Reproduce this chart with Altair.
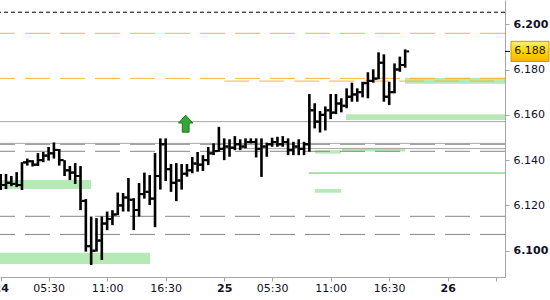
import altair as alt
import pandas as pd

# ---- OHLC bars (30-min slots; slot 0 = 00:00 on the 24th) ----
highs = [6.1339, 6.1339, 6.1330, 6.1347, 6.1391, 6.1407, 6.1400, 6.1431, 6.1436, 6.1458,
         6.1478, 6.1449, 6.1400, 6.1374, 6.1387, 6.1374, 6.1228, 6.1151, 6.1144, 6.1151,
         6.1173, 6.1179, 6.1257, 6.1255, 6.1321, 6.1232, 6.1299, 6.1345, 6.1334, 6.1431,
         6.1496, 6.1496, 6.1383, 6.1387, 6.1383, 6.1383, 6.1414, 6.1436, 6.1422, 6.1458,
         6.1474, 6.1547, 6.1496, 6.1492, 6.1506, 6.1492, 6.1496, 6.1496, 6.1496, 6.1496,
         6.1477, 6.1499, 6.1503, 6.1506, 6.1496, 6.1481, 6.1492, 6.1481, 6.1692, 6.1651,
         6.1617, 6.1637, 6.1692, 6.1692, 6.1673, 6.1717, 6.1742, 6.1717, 6.1746, 6.1788,
         6.1801, 6.1876, 6.1867, 6.1746, 6.1827, 6.1857, 6.1889]
lows = [6.1268, 6.1272, 6.1285, 6.1281, 6.1268, 6.1376, 6.1372, 6.1374, 6.1391, 6.1398,
        6.1407, 6.1376, 6.1330, 6.1312, 6.1295, 6.1179, 6.0996, 6.0937, 6.0996, 6.0959,
        6.1091, 6.1113, 6.1157, 6.1173, 6.1173, 6.1091, 6.1151, 6.1230, 6.1202, 6.1104,
        6.1270, 6.1308, 6.1260, 6.1219, 6.1270, 6.1327, 6.1342, 6.1349, 6.1352, 6.1378,
        6.1422, 6.1437, 6.1400, 6.1415, 6.1444, 6.1444, 6.1452, 6.1474, 6.1412, 6.1326,
        6.1415, 6.1459, 6.1459, 6.1459, 6.1422, 6.1422, 6.1422, 6.1422, 6.1437, 6.1540,
        6.1522, 6.1531, 6.1581, 6.1603, 6.1611, 6.1629, 6.1658, 6.1658, 6.1677, 6.1673,
        6.1742, 6.1757, 6.1658, 6.1643, 6.1695, 6.1790, 6.1808]
opens = [6.1300, 6.1290, 6.1300, 6.1295, 6.1290, 6.1390, 6.1395, 6.1380, 6.1400, 6.1420,
         6.1430, 6.1445, 6.1400, 6.1355, 6.1345, 6.1330, 6.1220, 6.1020, 6.1000, 6.1045,
         6.1120, 6.1140, 6.1160, 6.1200, 6.1235, 6.1225, 6.1180, 6.1250, 6.1260, 6.1230,
         6.1330, 6.1470, 6.1360, 6.1300, 6.1310, 6.1340, 6.1355, 6.1385, 6.1380, 6.1400,
         6.1430, 6.1440, 6.1450, 6.1460, 6.1455, 6.1470, 6.1460, 6.1480, 6.1480, 6.1450,
         6.1460, 6.1470, 6.1480, 6.1470, 6.1480, 6.1445, 6.1460, 6.1450, 6.1470, 6.1620,
         6.1570, 6.1600, 6.1620, 6.1610, 6.1650, 6.1640, 6.1680, 6.1690, 6.1700, 6.1740,
         6.1750, 6.1760, 6.1830, 6.1680, 6.1700, 6.1800, 6.1820]
closes = [6.1290, 6.1300, 6.1295, 6.1290, 6.1390, 6.1395, 6.1380, 6.1400, 6.1420, 6.1430,
          6.1445, 6.1400, 6.1355, 6.1345, 6.1330, 6.1220, 6.1020, 6.1000, 6.1045, 6.1120,
          6.1140, 6.1160, 6.1200, 6.1235, 6.1225, 6.1180, 6.1250, 6.1260, 6.1230, 6.1330,
          6.1470, 6.1360, 6.1300, 6.1310, 6.1340, 6.1355, 6.1385, 6.1380, 6.1400, 6.1430,
          6.1440, 6.1450, 6.1460, 6.1455, 6.1470, 6.1460, 6.1480, 6.1480, 6.1450, 6.1460,
          6.1470, 6.1480, 6.1470, 6.1480, 6.1445, 6.1460, 6.1450, 6.1470, 6.1620, 6.1570,
          6.1600, 6.1620, 6.1610, 6.1650, 6.1640, 6.1680, 6.1690, 6.1700, 6.1740, 6.1750,
          6.1760, 6.1830, 6.1680, 6.1700, 6.1800, 6.1820, 6.1880]

# ---- x axis ticks ----
tick_slots = [0, 9, 20, 31, 42, 51, 62, 73, 84, 93]
tick_labels = ["24", "05:30", "11:00", "16:30", "25", "05:30", "11:00", "16:30", "26", ""]
day_slots = [0, 42, 84]

# ---- y axis ----
y_ticks = [6.10, 6.12, 6.14, 6.16, 6.18, 6.20]
bold_y_ticks = [6.10, 6.20]
last_price = [6.188]

# ---- horizontal levels ----
black_dashed_levels = [6.2053]
orange_levels = [6.1960, 6.1761]
orange_part_level = [6.1749]
orange_part_from = [42]
gray_solid_levels = [6.1570, 6.1474]
gray_part_level = [6.1451]
gray_part_from = [42]
gray_dashed_levels = [6.1470, 6.1439, 6.1152, 6.1072]
green_line_level = [6.1343]
green_line_from = [57.9]

# ---- green zones ----
zone_from = [-0.13, -0.13, 75.97, 64.9, 64.13, 59.06, 59.06]
zone_to = [16.97, 28.06, 94.76, 94.76, 75.97, 63.94, 63.94]
zone_top = [6.1312, 6.0991, 6.1764, 6.1603, 6.1455, 6.1444, 6.1272]
zone_bottom = [6.1272, 6.0941, 6.1737, 6.1577, 6.1438, 6.1429, 6.1256]

# ---- signal arrow ----
arrow_slot = [34.76]
arrow_price = [6.1561]

X_DOMAIN = [-0.13, 94.76]
Y_DOMAIN = [6.0884, 6.2107]
FONT = "DejaVu Sans"

xs = alt.Scale(domain=X_DOMAIN, nice=False, zero=False)
ys = alt.Scale(domain=Y_DOMAIN, nice=False, zero=False)

bars = pd.DataFrame({"slot": list(range(len(highs))), "high": highs, "low": lows,
                     "open": opens, "close": closes})
zones = pd.DataFrame({"x": zone_from, "x2": zone_to, "top": zone_top, "bottom": zone_bottom})

label_expr = "[" + ",".join("'%s'" % l for l in tick_labels) + "][indexof([" + \
    ",".join(str(v) for v in tick_slots) + "], datum.value)]"
x_bold_test = " || ".join("datum.value === %d" % d for d in day_slots)
y_bold_test = " || ".join("abs(datum.value - %s) < 0.0005" % v for v in bold_y_ticks)

x_axis = alt.Axis(values=tick_slots, labelExpr=label_expr, title=None, orient="bottom",
                  grid=False, tickSize=4, labelPadding=1, labelFlush=False, labelOverlap=False,
                  domainColor="#a6a6a6", tickColor="#a6a6a6", labelFont=FONT,
                  labelFontSize=11, labelColor="#10102a",
                  labelFontWeight={"condition": {"test": x_bold_test, "value": "bold"},
                                   "value": "normal"})
y_axis = alt.Axis(values=y_ticks, format=".3f", title=None, orient="right", grid=False,
                  tickSize=4, labelPadding=4, labelFlush=False, labelOverlap=False,
                  domainColor="#a6a6a6", tickColor="#a6a6a6", labelFont=FONT,
                  labelFontSize=11, labelColor="#10102a",
                  labelFontWeight={"condition": {"test": y_bold_test, "value": "bold"},
                                   "value": "normal"})


def X(field):
    return alt.X(field, scale=xs, axis=x_axis)


def Y(field):
    return alt.Y(field, scale=ys, axis=y_axis)


zone_layer = alt.Chart(zones).mark_rect(color="#b5e9b5", opacity=1).encode(
    x=X("x:Q"), x2="x2:Q", y=Y("top:Q"), y2="bottom:Q")


def full_rules(levels, color, dash=None, width=1):
    kw = dict(color=color, strokeWidth=width)
    if dash:
        kw["strokeDash"] = dash
    return alt.Chart(pd.DataFrame({"p": levels})).mark_rule(**kw).encode(y=Y("p:Q"))


def part_rules(levels, starts, color, dash=None, width=1):
    kw = dict(color=color, strokeWidth=width)
    if dash:
        kw["strokeDash"] = dash
    df = pd.DataFrame({"p": levels, "a": starts, "b": [X_DOMAIN[1]] * len(levels)})
    return alt.Chart(df).mark_rule(**kw).encode(x=X("a:Q"), x2="b:Q", y=Y("p:Q"))


gray_solid = full_rules(gray_solid_levels, "#a8a8a8")
gray_part = part_rules(gray_part_level, gray_part_from, "#a8a8a8")
gray_dashed = full_rules(gray_dashed_levels, "#858585", dash=[25, 10])
black_dashed = full_rules(black_dashed_levels, "#000000", dash=[4, 3])
orange_full = full_rules(orange_levels, "#f5b63c", dash=[25, 10])
orange_part = part_rules(orange_part_level, orange_part_from, "#f5b63c", dash=[25, 10])
green_line = part_rules(green_line_level, green_line_from, "#5cc45c")

base = alt.Chart(bars)
hl = base.mark_rule(color="black", strokeWidth=2.6).encode(
    x=X("slot:Q"), y=Y("low:Q"), y2="high:Q")
op = base.mark_tick(orient="horizontal", size=3, thickness=2, xOffset=-2.5,
                    color="black", opacity=1).encode(x=X("slot:Q"), y=Y("open:Q"))
cl = base.mark_tick(orient="horizontal", size=3, thickness=2, xOffset=2.5,
                    color="black", opacity=1).encode(x=X("slot:Q"), y=Y("close:Q"))

arrow_path = "M-0.4,1L0.4,1L0.4,-0.08L0.84,-0.08L0,-1L-0.84,-0.08L-0.4,-0.08Z"
arrow = alt.Chart(pd.DataFrame({"s": arrow_slot, "p": arrow_price})).mark_point(
    shape=arrow_path, size=289, filled=True, fill="#33a833", stroke="#1f7a1f",
    strokeWidth=1, opacity=1).encode(x=X("s:Q"), y=Y("p:Q"))

price_df = pd.DataFrame({"p": last_price})
price_tick = alt.Chart(price_df).mark_rule(color="black", strokeWidth=1).encode(
    x=alt.value(505), x2=alt.value(510), y=Y("p:Q"))
box_path = "M-1,-0.53L1,-0.53L1,0.53L-1,0.53Z"
price_box = alt.Chart(price_df).mark_point(
    shape=box_path, size=1444, filled=True, opacity=1,
    fill=alt.LinearGradient(gradient="linear",
                            stops=[alt.GradientStop(color="#fff070", offset=0),
                                   alt.GradientStop(color="#ffd400", offset=0.5),
                                   alt.GradientStop(color="#f5b800", offset=1)],
                            x1=0, x2=0, y1=0, y2=1),
    stroke="#c99a10", strokeWidth=1).encode(x=alt.value(530), y=Y("p:Q"))
price_text = alt.Chart(price_df).mark_text(
    font=FONT, fontSize=11, color="#1a1a1a", align="center", baseline="middle").encode(
    x=alt.value(530), y=Y("p:Q"), text=alt.Text("p:Q", format=".3f"))

chart = alt.layer(
    zone_layer, gray_solid, gray_part, gray_dashed, black_dashed, orange_full,
    orange_part, green_line, hl, op, cl, arrow, price_tick, price_box, price_text
).properties(
    width=505, height=277,
    padding={"left": 0, "top": 0, "right": 45, "bottom": 23},
    autosize="none",
).configure_view(stroke=None)

chart.save("out.html", embed_options={"renderer": "svg", "actions": False})
